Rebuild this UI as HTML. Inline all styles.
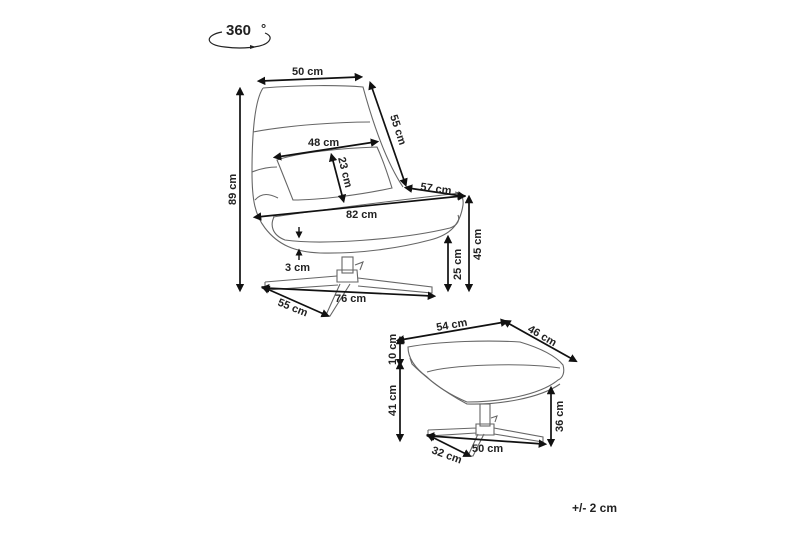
<!DOCTYPE html>
<html><head><meta charset="utf-8"><style>
html,body{margin:0;padding:0;background:#fff;overflow:hidden;width:800px;height:533px;}
svg{display:block;}
text{font-family:"Liberation Sans","DejaVu Sans",sans-serif;font-weight:bold;fill:#222;font-size:11px;}
.o{fill:none;stroke:#666;stroke-width:1.1;}
.a{stroke:#111;stroke-width:1.7;fill:none;marker-start:url(#h);marker-end:url(#h);}
</style></head><body>
<svg width="800" height="533" viewBox="0 0 800 533">
<defs>
<marker id="h" viewBox="0 0 10 10" refX="5" refY="5" markerWidth="5" markerHeight="5" orient="auto-start-reverse"><path d="M0,0 L10,5 L0,10 z" fill="#111"/></marker>
</defs>
<!-- 360 logo -->
<text x="226" y="35" style="font-size:15px">360</text>
<text x="261" y="33" style="font-size:13px">°</text>
<path d="M222,32 C205,35 204,45 225,47 C240,49 262,48 268,42 C272,38 270,35 265,33" fill="none" stroke="#222" stroke-width="1.2"/>
<path d="M250,45 L256,47 L250,49 z" fill="#222"/>

<!-- Chair outline -->
<path class="o" d="M263,88 C300,85 340,85 363,87 C372,120 385,160 403,187"/>
<path class="o" d="M263,88 C255,100 252,130 252,172 C252,200 255,215 265,228 C278,245 295,252 320,253 C360,254 400,248 430,240 C450,235 460,225 463,205 C464,196 460,193 455,192"/>
<path class="o" d="M273,217 C320,210 400,200 460,193"/>
<path class="o" d="M274,217 C270,225 272,235 285,240 C320,245 400,240 450,228 C458,225 460,220 458,215"/>
<path class="o" d="M253,132 C290,125 340,122 370,122"/>
<path class="o" d="M252,172 C262,168 270,167 277,167"/>
<path class="o" d="M255,200 C262,192 270,194 278,198"/>
<path class="o" d="M277,160 C300,152 345,148 377,147 C383,160 388,175 392,188 C360,195 320,200 293,200 C287,185 282,172 277,160z"/>
<!-- Chair base -->
<rect x="342" y="257" width="11" height="16" class="o"/>
<path class="o" d="M337,270 L357,270 L358,282 L337,282z"/>
<path class="o" d="M265,282 L337,276 M265,282 L265,290 L338,285 M358,278 L432,287 L432,293 L358,286 M340,284 L326,315 L330,316 L350,284"/>
<path class="o" d="M355,265 L363,262 L360,270"/>

<!-- Chair dims -->
<line class="a" x1="261" y1="81" x2="359" y2="77"/>
<text x="292" y="75">50 cm</text>
<line class="a" x1="240" y1="91" x2="240" y2="288"/>
<text transform="translate(236,205) rotate(-90)">89 cm</text>
<line class="a" x1="371" y1="85" x2="405" y2="183"/>
<text transform="translate(390,116) rotate(72)">55 cm</text>
<line class="a" x1="277" y1="157" x2="375" y2="142"/>
<text x="308" y="146">48 cm</text>
<line class="a" x1="332" y1="157" x2="343" y2="199"/>
<text transform="translate(338,158) rotate(76)">23 cm</text>
<line class="a" x1="408" y1="188" x2="462" y2="196"/>
<text transform="translate(420,190) rotate(8)">57 cm</text>
<line class="a" x1="257" y1="217" x2="462" y2="196"/>
<text x="346" y="218">82 cm</text>
<line class="a" x1="469" y1="199" x2="469" y2="288"/>
<text transform="translate(481,260) rotate(-90)">45 cm</text>
<line class="a" x1="448" y1="239" x2="448" y2="288"/>
<text transform="translate(461,280) rotate(-90)">25 cm</text>
<line x1="299" y1="227" x2="299" y2="235" stroke="#111" stroke-width="1.4" marker-end="url(#h)"/>
<line x1="299" y1="260" x2="299" y2="252" stroke="#111" stroke-width="1.4" marker-end="url(#h)"/>
<text x="285" y="271">3 cm</text>
<line class="a" x1="265" y1="288" x2="432" y2="296"/>
<text x="335" y="302">76 cm</text>
<line class="a" x1="265" y1="288" x2="326" y2="315"/>
<text transform="translate(277,305) rotate(22)">55 cm</text>

<!-- Ottoman outline -->
<path class="o" d="M408,347 C440,341 490,340 520,342 C540,348 555,355 563,365 C565,372 563,378 558,380 C540,395 500,402 467,402 C450,395 435,385 427,377 C415,368 408,358 408,347z"/>
<path class="o" d="M427,372 C450,365 520,362 560,368"/>
<path class="o" d="M410,358 L412,364 C420,372 440,390 467,404 C500,405 540,398 560,384"/>
<rect x="480" y="404" width="10" height="22" class="o"/>
<path class="o" d="M476,424 L494,424 L494,435 L476,435z M428,430 L476,428 M428,430 L428,436 L476,433 M494,428 L543,437 L543,442 L494,434 M478,434 L468,456 L473,456 L484,434"/>
<path class="o" d="M491,418 L497,416 L495,422"/>

<!-- Ottoman dims -->
<line class="a" x1="400" y1="340" x2="505" y2="322"/>
<text transform="translate(437,331) rotate(-10)">54 cm</text>
<line class="a" x1="506" y1="322" x2="574" y2="360"/>
<text transform="translate(527,331) rotate(30)">46 cm</text>
<line class="a" x1="400" y1="340" x2="400" y2="363"/>
<text transform="translate(396,365) rotate(-90)">10 cm</text>
<line class="a" x1="400" y1="365" x2="400" y2="438"/>
<text transform="translate(396,416) rotate(-90)">41 cm</text>
<line class="a" x1="551" y1="390" x2="551" y2="443"/>
<text transform="translate(563,432) rotate(-90)">36 cm</text>
<line class="a" x1="430" y1="436" x2="543" y2="444"/>
<text x="472" y="452">50 cm</text>
<line class="a" x1="430" y1="436" x2="468" y2="455"/>
<text transform="translate(431,453) rotate(20)">32 cm</text>

<text x="572" y="512" style="font-size:12px">+/- 2 cm</text>
</svg>
</body></html>
